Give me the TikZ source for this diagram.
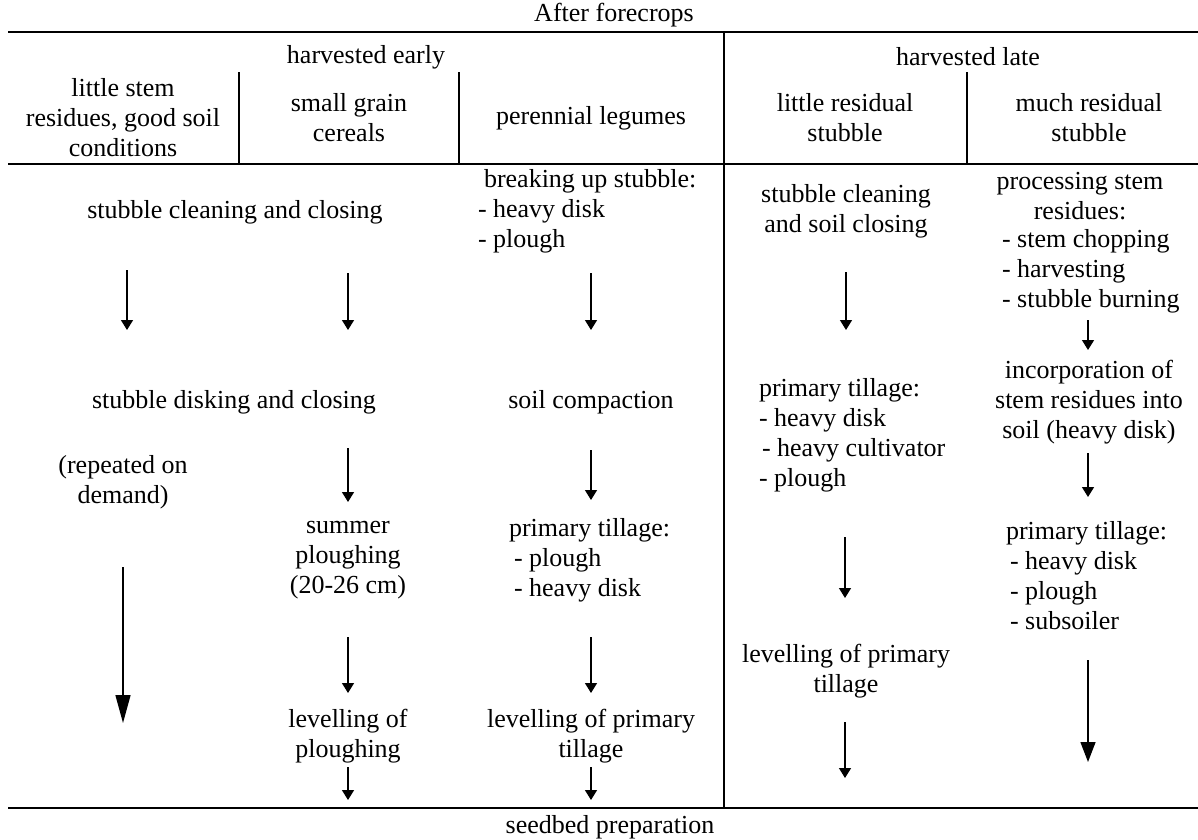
\documentclass[tikz,border=0pt]{standalone}
\usepackage{fontspec}
\setmainfont{Liberation Serif}
\usetikzlibrary{arrows.meta}
\begin{document}
\begin{tikzpicture}[x=1pt,y=-1pt,
  every node/.style={inner sep=0pt,outer sep=0pt,font=\fontsize{26pt}{30pt}\selectfont},
  ctext/.style={align=center},
  ltext/.style={align=left,anchor=west},
  rule/.style={line width=2.4pt},
  divider/.style={line width=2pt},
  arr/.style={line width=1.4pt,-{Triangle[length=10pt,width=12pt]}},
  bigarr/.style={line width=1.4pt,-{Triangle[length=28pt,width=15pt]}},
  midarr/.style={line width=1.4pt,-{Triangle[length=20pt,width=15pt]}}]
\useasboundingbox (0,0) rectangle (1198,839);
\fill[white] (0,0) rectangle (1198,839);
% rules
\coordinate (r1a) at (8,32);   \coordinate (r1b) at (1198,32);
\coordinate (r2a) at (8,164);  \coordinate (r2b) at (1198,164);
\coordinate (r3a) at (8,808);  \coordinate (r3b) at (1198,808);
\coordinate (mda) at (724,32); \coordinate (mdb) at (724,808);
\coordinate (d1a) at (239,72); \coordinate (d1b) at (239,164);
\coordinate (d2a) at (459,72); \coordinate (d2b) at (459,164);
\coordinate (d3a) at (967,72); \coordinate (d3b) at (967,164);
\draw[rule] (r1a) -- (r1b);
\draw[rule] (r2a) -- (r2b);
\draw[rule] (r3a) -- (r3b);
\draw[divider] (mda) -- (mdb);
\draw[divider] (d1a) -- (d1b);
\draw[divider] (d2a) -- (d2b);
\draw[divider] (d3a) -- (d3b);
% header
\node[ctext] (after) at (614,15) {After forecrops};
\node[ctext] (early) at (366,57) {harvested early};
\node[ctext] (late) at (968,57) {harvested late};
\node[ctext] (h1) at (123,118) {little stem\\residues, good soil\\conditions};
\node[ctext] (h2) at (349,118) {small grain\\cereals};
\node[ctext] (h3) at (591,118) {perennial legumes};
\node[ctext] (h4) at (845,118) {little residual\\stubble};
\node[ctext] (h5) at (1089,118) {much residual\\stubble};
% early columns
\node[ctext] (scc) at (235,212) {stubble cleaning and closing};
\node[ltext] (bus) at (478,211) {\hspace{6pt}breaking up stubble:\\- heavy disk\\- plough};
\node[ctext] (sdc) at (234,402) {stubble disking and closing};
\node[ctext] (sco) at (591,402) {soil compaction};
\node[ctext] (rep) at (123,482) {(repeated on\\demand)};
\node[ctext] (sum) at (348,560) {summer\\ploughing\\(20-26 cm)};
\node[ltext] (pt1) at (509,560) {primary tillage:\\\hspace{5pt}- plough\\\hspace{5pt}- heavy disk};
\node[ctext] (lop) at (348,736) {levelling of\\ploughing};
\node[ctext] (lpt1) at (591,736) {levelling of primary\\tillage};
% late columns
\node[ctext] (scs) at (846,211) {stubble cleaning\\and soil closing};
\node[ltext] (pt2) at (759,435) {primary tillage:\\- heavy disk\\\hspace{3pt}- heavy cultivator\\- plough};
\node[ctext] (lpt2) at (846,671) {levelling of primary\\tillage};
\node[ctext] (pse) at (1080,196) {processing stem\\residues:};
\node[ltext] (psl) at (1002,271) {- stem chopping\\- harvesting\\- stubble burning};
\node[ctext] (inc) at (1089,402) {incorporation of\\stem residues into\\soil (heavy disk)};
\node[ltext] (pt3) at (1006,576) {primary tillage:\\\hspace{4pt}- heavy disk\\\hspace{4pt}- plough\\\hspace{4pt}- subsoiler};
\node[ctext] (seed) at (610,827) {seedbed preparation};
% arrow end points
\coordinate (a1s) at (127,270); \coordinate (a1e) at (127,330);
\coordinate (a2s) at (348,273); \coordinate (a2e) at (348,330);
\coordinate (a3s) at (591,273); \coordinate (a3e) at (591,330);
\coordinate (a4s) at (348,448); \coordinate (a4e) at (348,502);
\coordinate (a5s) at (591,450); \coordinate (a5e) at (591,500);
\coordinate (a6s) at (123,567); \coordinate (a6e) at (123,723);
\coordinate (a7s) at (348,637); \coordinate (a7e) at (348,693);
\coordinate (a8s) at (591,637); \coordinate (a8e) at (591,693);
\coordinate (a9s) at (348,767); \coordinate (a9e) at (348,800);
\coordinate (a10s) at (591,767); \coordinate (a10e) at (591,800);
\coordinate (l1s) at (846,272); \coordinate (l1e) at (846,330);
\coordinate (l2s) at (845,537); \coordinate (l2e) at (845,598);
\coordinate (l3s) at (845,722); \coordinate (l3e) at (845,778);
\coordinate (m1s) at (1088,320); \coordinate (m1e) at (1088,350);
\coordinate (m2s) at (1088,453); \coordinate (m2e) at (1088,497);
\coordinate (m3s) at (1088,660); \coordinate (m3e) at (1088,762);
\draw[arr] (a1s) -- (a1e);
\draw[arr] (a2s) -- (a2e);
\draw[arr] (a3s) -- (a3e);
\draw[arr] (a4s) -- (a4e);
\draw[arr] (a5s) -- (a5e);
\draw[bigarr] (a6s) -- (a6e);
\draw[arr] (a7s) -- (a7e);
\draw[arr] (a8s) -- (a8e);
\draw[arr] (a9s) -- (a9e);
\draw[arr] (a10s) -- (a10e);
\draw[arr] (l1s) -- (l1e);
\draw[arr] (l2s) -- (l2e);
\draw[arr] (l3s) -- (l3e);
\draw[arr] (m1s) -- (m1e);
\draw[arr] (m2s) -- (m2e);
\draw[midarr] (m3s) -- (m3e);
\end{tikzpicture}
\end{document}
